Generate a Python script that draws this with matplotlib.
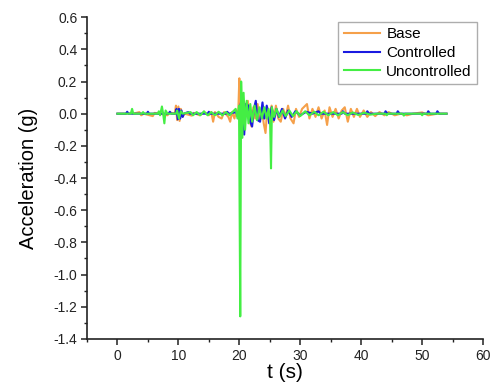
import matplotlib
matplotlib.use("Agg")
import matplotlib.pyplot as plt
from matplotlib.ticker import MultipleLocator

plt.rcParams['font.family'] = ['Liberation Sans', 'DejaVu Sans']

# (time s, acceleration g) breakpoints
base = [(0, 0), (2.0, 0), (2.3, 0.008), (2.6, 0), (3.6, 0.01), (3.9, -0.01), (4.3, 0), (5.8, -0.015),
        (6.1, 0.005), (7.0, 0), (8.2, -0.01), (8.6, 0.008), (9.4, 0), (9.6, 0.05), (9.8, -0.04),
        (10.0, 0.045), (10.2, -0.045), (10.4, 0.03), (10.7, -0.02), (11.0, 0), (12.2, -0.012),
        (12.5, 0.005), (13.5, -0.01), (14.2, 0.008), (15.0, -0.01), (15.4, 0.01), (15.7, -0.05),
        (16.0, 0.01), (16.6, -0.02), (17.1, -0.03), (17.5, 0.01), (18.2, -0.02), (18.5, -0.05),
        (18.8, 0.01), (19.2, -0.03), (19.5, 0.02), (19.8, -0.02), (20.0, 0.22), (20.2, 0.05),
        (20.35, -0.1), (20.6, 0.1), (20.85, -0.06), (21.1, 0.06), (21.4, 0.08), (21.7, -0.05),
        (22.0, -0.08), (22.3, 0.04), (22.6, -0.03), (23.0, 0.06), (23.3, -0.04), (23.7, 0.03),
        (24.0, -0.06), (24.3, -0.12), (24.6, 0.04), (24.9, -0.03), (25.3, 0.05), (25.6, -0.05),
        (26.0, 0.05), (26.4, -0.03), (26.8, -0.05), (27.2, 0.03), (27.6, -0.02), (28.0, 0.05),
        (28.4, -0.03), (28.9, -0.06), (29.3, 0.03), (29.8, -0.02), (30.3, 0.03), (31.1, 0.06),
        (31.5, -0.03), (32.0, 0.03), (32.5, -0.02), (33.0, 0.04), (33.5, -0.03), (34.0, 0.02),
        (34.4, -0.07), (34.8, 0.04), (35.3, -0.02), (35.8, 0.03), (36.3, -0.03), (36.8, 0.02),
        (37.3, 0.04), (37.8, -0.05), (38.3, 0.03), (38.8, -0.02), (39.3, 0.03), (39.8, -0.02),
        (40.4, 0.02), (41.0, -0.02), (41.6, 0.01), (42.3, -0.015), (43.0, 0.01), (43.8, -0.01),
        (44.5, 0.01), (45.5, -0.01), (46.5, 0), (47.5, -0.01), (48.5, 0), (50.0, 0.008),
        (51.0, -0.01), (52.5, 0), (54.0, 0)]

controlled = [(0, 0), (1.4, 0), (1.6, 0.012), (1.8, 0), (4.8, 0), (5.0, 0.012), (5.2, 0),
              (8.4, 0), (8.6, 0.012), (8.8, 0), (9.5, 0), (9.7, 0.03), (9.9, -0.035),
              (10.1, 0.03), (10.3, -0.03), (10.5, 0.02), (10.7, -0.02), (10.9, 0), (11.6, 0.01),
              (11.9, 0), (14.8, 0), (15.0, 0.012), (15.2, 0), (17.8, 0), (18.0, 0.012),
              (18.3, 0), (19.5, 0.01), (19.8, -0.02), (20.1, 0.03), (20.5, 0.12), (20.8, -0.13),
              (21.1, 0.06), (21.5, 0.05), (21.8, -0.05), (22.1, -0.08), (22.4, 0.03),
              (22.7, 0.08), (23.0, -0.04), (23.4, -0.05), (23.8, 0.07), (24.1, -0.03),
              (24.5, 0.05), (24.9, -0.06), (25.3, 0.04), (25.7, -0.04), (26.1, 0.03),
              (26.5, -0.02), (27.0, 0.03), (27.5, -0.03), (28.0, 0.02), (28.6, -0.02),
              (29.2, 0.015), (30.0, -0.01), (31.0, 0.012), (32.0, 0), (33.0, 0.015), (33.3, 0),
              (36.8, 0), (37.0, 0.015), (37.3, 0), (40.8, 0), (41.0, 0.015), (41.3, 0),
              (43.8, 0), (44.0, 0.015), (44.3, 0), (45.8, 0), (46.0, 0.015), (46.3, 0),
              (50.8, 0), (51.0, 0.015), (51.3, 0), (52.3, 0), (52.5, 0.015), (52.8, 0), (54.0, 0)]

uncontrolled = [(0, 0), (2.2, 0), (2.4, 0.03), (2.6, 0), (4.0, 0), (4.2, 0.01), (4.4, 0),
                (6.6, 0), (6.8, 0.015), (7.0, -0.01), (7.3, 0.045), (7.5, 0), (7.7, -0.06),
                (7.9, 0.02), (8.2, 0), (9.6, 0), (9.8, 0.02), (10.1, -0.03), (10.4, 0.015),
                (10.7, 0), (12.0, 0.01), (12.4, -0.01), (13.0, 0.01), (13.6, -0.01), (14.2, 0.015),
                (14.8, -0.01), (15.4, 0.01), (16.0, -0.01), (16.6, 0.012), (17.2, -0.01),
                (17.8, 0.01), (18.4, -0.01), (19.0, 0.015), (19.4, 0.03), (19.7, -0.03),
                (19.95, 0.05), (20.15, -1.26), (20.3, 0.2), (20.5, -0.15), (20.7, 0.13),
                (20.95, -0.1), (21.2, 0.08), (21.5, -0.06), (21.8, 0.06), (22.1, -0.05),
                (22.5, 0.05), (22.9, -0.04), (23.3, 0.04), (23.7, -0.03), (24.1, 0.04),
                (24.5, -0.03), (24.8, 0.03), (25.05, -0.05), (25.2, -0.34), (25.35, 0.04),
                (25.7, -0.02), (26.1, 0.03), (26.6, -0.02), (27.1, 0.02), (27.6, -0.015),
                (28.2, 0.02), (28.8, -0.015), (29.4, 0.015), (30.0, -0.015), (30.8, 0.015),
                (31.5, -0.01), (32.3, 0.012), (33.0, -0.01), (33.8, 0.012), (34.6, -0.01),
                (35.4, 0.01), (36.2, -0.01), (37.0, 0.01), (37.8, -0.01), (38.6, 0.008),
                (39.5, -0.008), (40.5, 0.006), (41.5, -0.006), (42.5, 0), (44.0, 0),
                (44.2, -0.01), (44.4, 0), (46.8, 0), (47.0, -0.012), (47.2, 0), (49.8, 0),
                (50.0, -0.01), (50.2, 0), (54.0, 0)]

series = [("Base", base, "#f5a04a"), ("Controlled", controlled, "#1a1ae0"),
          ("Uncontrolled", uncontrolled, "#44ee44")]

fig = plt.figure(figsize=(4.97, 3.90), dpi=100)
ax = fig.add_axes([0.175, 0.131, 0.797, 0.825])

for name, data, color in series:
    t = [p[0] for p in data]
    a = [p[1] for p in data]
    ax.plot(t, a, color=color, lw=1.5, label=name)

ax.set_xlim(-5, 60)
ax.set_ylim(-1.4, 0.6)
ax.xaxis.set_major_locator(MultipleLocator(10))
ax.xaxis.set_minor_locator(MultipleLocator(5))
ax.yaxis.set_major_locator(MultipleLocator(0.2))
ax.yaxis.set_minor_locator(MultipleLocator(0.1))
ax.set_xticks([0, 10, 20, 30, 40, 50, 60])
ax.yaxis.set_major_formatter(matplotlib.ticker.FuncFormatter(lambda v, p: f"{v:.1f}".replace("-0.0", "0.0")))

for s in ("top", "right"):
    ax.spines[s].set_visible(False)
for s in ("left", "bottom"):
    ax.spines[s].set_linewidth(1.2)
    ax.spines[s].set_color("#222222")

ax.tick_params(which="major", direction="out", length=4, width=1.1, labelsize=10,
               colors="#222222", pad=3)
ax.tick_params(which="minor", direction="out", length=2.5, width=1.0, colors="#222222")

ax.set_ylabel("Acceleration (g)", fontsize=14.5, labelpad=11)
ax.set_xlabel("t (s)", fontsize=15, labelpad=0)

leg = ax.legend(loc="upper right", bbox_to_anchor=(0.985, 0.985), fontsize=11,
                frameon=True, fancybox=False, edgecolor="#999999", handlelength=2.4,
                borderpad=0.35, labelspacing=0.3, handletextpad=0.4, borderaxespad=0)
leg.get_frame().set_linewidth(1.0)

fig.savefig("out.png", dpi=100)
